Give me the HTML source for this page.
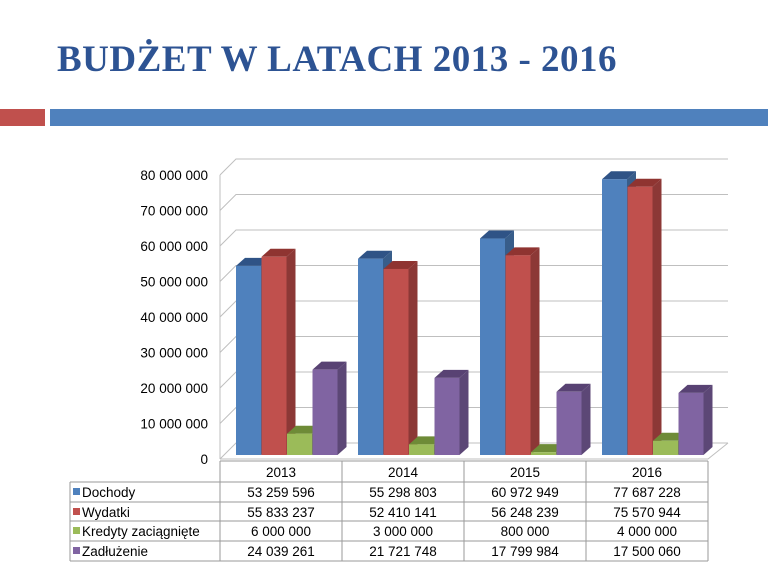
<!DOCTYPE html>
<html><head><meta charset="utf-8"><style>
body{margin:0;width:768px;height:576px;background:#fff;overflow:hidden;position:relative;font-family:"Liberation Sans",sans-serif}
#title{position:absolute;left:57px;top:38px;font-family:"Liberation Serif",serif;font-weight:bold;font-size:37px;color:#2D5393;letter-spacing:0.5px;white-space:nowrap}
</style></head><body>
<div id="title">BUDŻET W LATACH 2013 - 2016</div>
<div style="position:absolute;left:0;top:109px;width:45px;height:17px;background:#C0504D"></div>
<div style="position:absolute;left:50px;top:109px;width:718px;height:17px;background:#4F81BD"></div>
<svg id="chart" width="768" height="576" style="position:absolute;left:0;top:0" font-family="Liberation Sans, sans-serif"></svg>
<script>
const categories=["2013","2014","2015","2016"];
const seriesNames=["Dochody","Wydatki","Kredyty zaciągnięte","Zadłużenie"];
const dochody=[53259596,55298803,60972949,77687228];
const wydatki=[55833237,52410141,56248239,75570944];
const kredyty=[6000000,3000000,800000,4000000];
const zadluzenie=[24039261,21721748,17799984,17500060];
const tableText=[["53 259 596","55 298 803","60 972 949","77 687 227"],["55 833 237","52 410 141","56 248 239","75 570 944"],["6 000 000","3 000 000","800 000","4 000 000"],["24 039 261","21 721 748","17 799 984","17 500 060"]];
tableText[0][3]="77 687 228";
const yTicks=[0,10000000,20000000,30000000,40000000,50000000,60000000,70000000,80000000];
const yTickLabels=["0","10 000 000","20 000 000","30 000 000","40 000 000","50 000 000","60 000 000","70 000 000","80 000 000"];
const series=[dochody,wydatki,kredyty,zadluzenie];
const fronts=["#4F81BD","#C0504D","#9BBB59","#8064A2"];
const sides=["#385D8A","#8C3836","#71893F","#5C4776"];
const tops=["#2F5386","#8F3431","#6E8B37","#584273"];
const svg=document.getElementById('chart');
const NS="http://www.w3.org/2000/svg";
function mk(t,a){const e=document.createElementNS(NS,t);for(const k in a)e.setAttribute(k,a[k]);svg.appendChild(e);return e;}
const x0=220,xEnd=708,dx=16,dy=-16,yBase=459,yTop=175;
function yFront(v){return yBase-(v/80000000)*(yBase-yTop);}
// walls
let g;
for(let i=0;i<yTicks.length;i++){
  const y=yFront(yTicks[i]);
  g=mk('polyline',{points:`${x0},${y} ${x0+dx},${y+dy} 728,${y+dy}`,fill:'none',stroke:'#BFBFBF','stroke-width':1});
  
  
  const t=mk('text',{x:208,y:y+5,'text-anchor':'end','font-size':13.5,fill:'#000'});
  t.textContent=yTickLabels[i];
  
  
}
mk('line',{x1:x0,y1:yTop,x2:x0,y2:yBase,stroke:'#BFBFBF'});
mk('polyline',{points:`${x0},${yBase} ${xEnd},${yBase} 728,${yBase+dy}`,fill:'none',stroke:'#BFBFBF'});
// bars
const colW=(xEnd-x0)/categories.length, bw=25, bdx=9, bdy=-8, barBase=455;
function yBar(v){return barBase-(v/80000000)*(yBase-yTop);}
for(let c=0;c<categories.length;c++){
  for(let s=0;s<series.length;s++){
    const bx=x0+c*colW+16+s*25.5, yt=yBar(series[s][c]);
    const grp=document.createElementNS(NS,'g');svg.appendChild(grp);
    
    
    const f=document.createElementNS(NS,'rect');f.setAttribute('x',bx);f.setAttribute('y',yt);f.setAttribute('width',bw);f.setAttribute('height',barBase-yt);f.setAttribute('fill',fronts[s]);
    const sd=document.createElementNS(NS,'polygon');sd.setAttribute('points',`${bx+bw},${yt} ${bx+bw+bdx},${yt+bdy} ${bx+bw+bdx},${barBase+bdy} ${bx+bw},${barBase}`);sd.setAttribute('fill',sides[s]);
    const tp=document.createElementNS(NS,'polygon');tp.setAttribute('points',`${bx},${yt} ${bx+bdx},${yt+bdy} ${bx+bw+bdx},${yt+bdy} ${bx+bw},${yt}`);tp.setAttribute('fill',tops[s]);
    grp.appendChild(sd);grp.appendChild(tp);grp.appendChild(f);
  }
}
// table
const rowY=[461,482,502,521,541,561];
const lx=70;
mk('line',{x1:x0,y1:rowY[0],x2:xEnd,y2:rowY[0],stroke:'#9A9A9A'});
for(let r=1;r<rowY.length;r++)mk('line',{x1:lx,y1:rowY[r],x2:xEnd,y2:rowY[r],stroke:'#9A9A9A'});
mk('line',{x1:lx,y1:rowY[1],x2:lx,y2:rowY[5],stroke:'#9A9A9A'});
for(let c=0;c<=categories.length;c++){const x=x0+c*colW;mk('line',{x1:x,y1:rowY[0],x2:x,y2:rowY[5],stroke:'#9A9A9A'});}
for(let c=0;c<categories.length;c++){
  const t=mk('text',{x:x0+c*colW+colW/2,y:rowY[0]+16,'text-anchor':'middle','font-size':13.5});
  t.textContent=categories[c];
  
  
}
for(let s=0;s<series.length;s++){
  const y=rowY[s+1]+15;
  const k=mk('rect',{x:lx+3,y:y-9,width:7,height:7,fill:fronts[s]});
  
  
  const l=mk('text',{x:lx+12,y:y,'font-size':13.5});
  l.textContent=seriesNames[s];
  
  
  for(let c=0;c<categories.length;c++){
    const t=mk('text',{x:x0+c*colW+colW/2,y:y,'text-anchor':'middle','font-size':13.5});
    t.textContent=tableText[s][c];
    
    
  }
}
</script>
</body></html>
